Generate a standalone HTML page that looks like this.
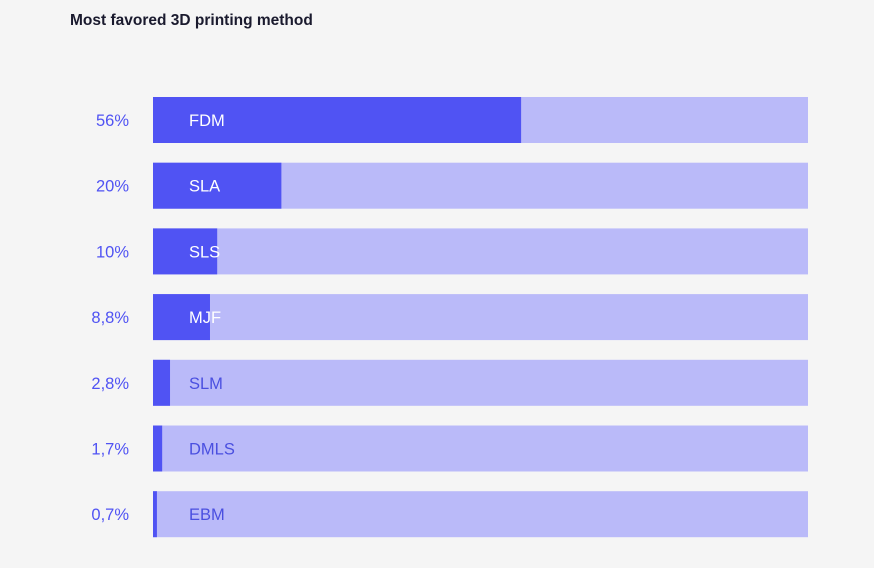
<!DOCTYPE html>
<html><head><meta charset="utf-8"><style>
body{margin:0;background:#f5f5f5;width:874px;height:568px;overflow:hidden;font-family:"Liberation Sans",sans-serif;}
.title{position:absolute;left:70px;top:12px;font-size:15.5px;font-weight:bold;color:#1a1a2e;}
</style></head><body>
<div class="title">Most favored 3D printing method</div>
<svg id="chart" width="874" height="568" style="position:absolute;left:0;top:0"></svg>
<script>
const categories=["FDM","SLA","SLS","MJF","SLM","DMLS","EBM"];
const values=[56.2,19.6,9.8,8.7,2.6,1.4,0.6];
const valueLabels=["56%","20%","10%","8,8%","2,8%","1,7%","0,7%"];
const NS="http://www.w3.org/2000/svg";
const svg=document.getElementById('chart');
const x0=153,w=655,y0=97,pitch=65.7,h=46;
const xs=v=>v/100*w;
const ys=i=>y0+i*pitch;
function mk(t,a){const e=document.createElementNS(NS,t);for(const k in a)e.setAttribute(k,a[k]);svg.appendChild(e);return e;}
categories.forEach((c,i)=>{
  const y=ys(i);
  const tr=mk('rect',{x:x0,y:y,width:w,height:h,fill:'#babaf9'});
  
  
  const b=mk('rect',{x:x0,y:y,width:xs(values[i]),height:h,fill:'#5053f3'});
  
  
  const l=mk('text',{x:189,y:y+h/2+6,'font-size':16.5,fill:values[i]>=5?'#ffffff':'#4a4fe0','font-family':'Liberation Sans, sans-serif'});
  l.textContent=c;
  
  
  const p=mk('text',{x:129,y:y+h/2+6,'font-size':16.5,fill:'#5053f3','text-anchor':'end','font-family':'Liberation Sans, sans-serif'});
  p.textContent=valueLabels[i];
  
  
});
</script>
</body></html>
